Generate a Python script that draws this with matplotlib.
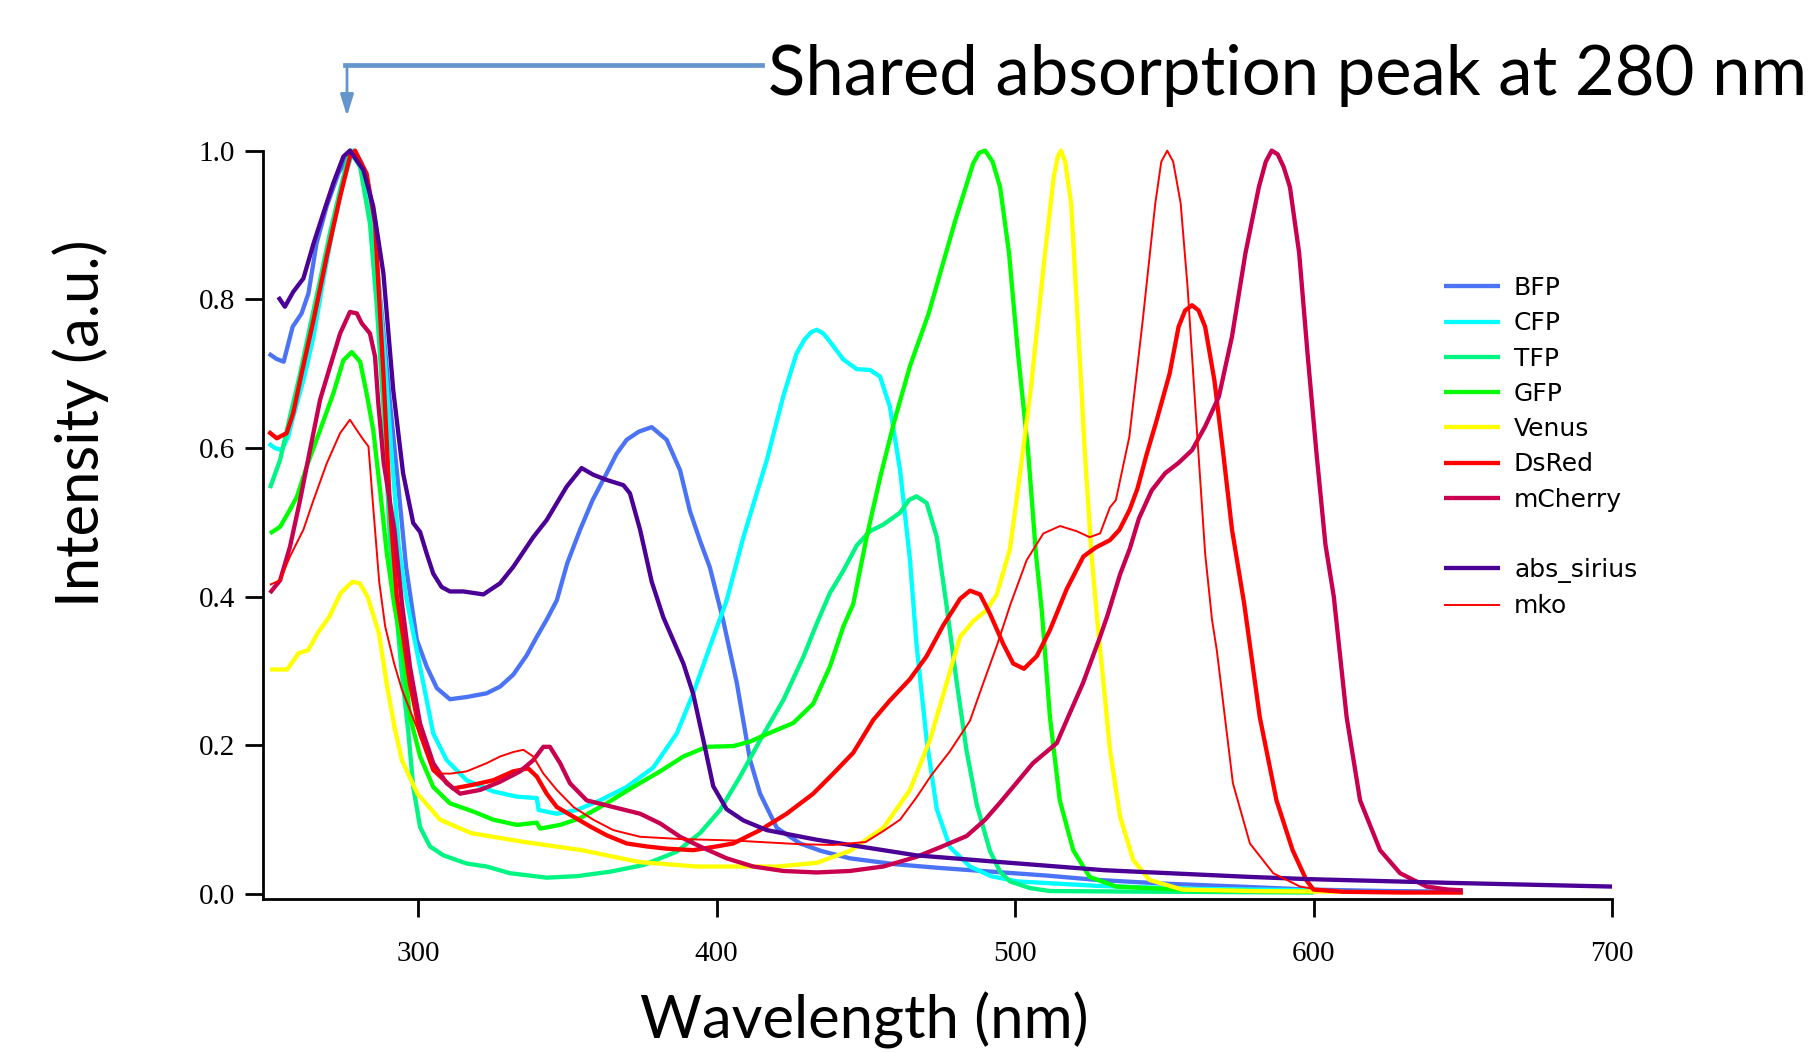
import numpy as np
import matplotlib
matplotlib.use('Agg')
from matplotlib import pyplot as plt
from matplotlib.lines import Line2D

########## SPECTRA ##########

bfp_nm = [250, 252.5, 255, 258, 261, 263.3, 266, 269.4, 273.3, 277.5, 280.5, 283, 285.5, 288, 290.5, 293,
          296, 299.6, 302.9, 306.3, 310.7, 316.3, 323, 327.5, 331.9, 336.4, 339.8, 343.1, 346.5, 350, 354.3,
          358.5, 363.2, 366.5, 369.9, 374, 378.3, 383.3, 387.8, 391.1, 394.5, 397.8, 402.3, 406.8, 411.2, 414.6,
          420.2, 428, 435, 444.7, 460, 475, 489, 510, 527.4, 550, 575, 598.5, 625, 650]
bfp = [0.727, 0.72, 0.716, 0.763, 0.781, 0.808, 0.875, 0.925, 0.969, 1.0, 0.985, 0.945, 0.875, 0.775, 0.665, 0.565,
       0.44, 0.342, 0.306, 0.277, 0.262, 0.265, 0.27, 0.279, 0.295, 0.321, 0.346, 0.369, 0.395, 0.445, 0.49,
       0.53, 0.566, 0.592, 0.611, 0.622, 0.628, 0.611, 0.57, 0.515, 0.475, 0.439, 0.367, 0.284, 0.181, 0.135,
       0.089, 0.068, 0.058, 0.048, 0.04, 0.035, 0.031, 0.025, 0.019, 0.014, 0.01, 0.006, 0.004, 0.003]

cfp_nm = [250, 252, 254.3, 256.5, 258.2, 261.6, 265, 268.3, 271.6, 275, 278.3, 281, 283.5, 286, 288.5, 291, 293.5,
          296, 298.4, 301.8, 305.1, 309.6, 316.3, 325.2, 333.1, 339.8, 340.4, 346.5, 353.2, 361, 369.9, 378.8,
          386.7, 392.2, 397.8, 403.4, 409, 416.8, 422.4, 426.8, 429.5, 431.8, 433.6, 435.8, 438, 442.5, 447, 451.4,
          454.8, 458.1, 461.5, 464.8, 467, 470.4, 473.8, 478.2, 484.9, 492, 500.6, 527.4, 560, 600]
cfp = [0.606, 0.6, 0.597, 0.615, 0.642, 0.691, 0.75, 0.826, 0.898, 0.96, 1.0, 0.985, 0.94, 0.86, 0.74, 0.6, 0.47,
       0.4, 0.351, 0.283, 0.216, 0.18, 0.153, 0.138, 0.131, 0.129, 0.113, 0.108, 0.113, 0.126, 0.144, 0.17,
       0.216, 0.27, 0.333, 0.395, 0.48, 0.583, 0.67, 0.727, 0.746, 0.756, 0.759, 0.754, 0.743, 0.719, 0.706, 0.705,
       0.696, 0.655, 0.57, 0.45, 0.336, 0.207, 0.114, 0.063, 0.037, 0.024, 0.017, 0.011, 0.007, 0.005]

tfp_nm = [250.4, 253.8, 257.1, 260.5, 263.8, 267.2, 270.5, 273.9, 277.2, 280.6, 283.9, 286.2, 288.4, 290.6, 292.3,
          294.5, 296.8, 298.4, 300.7, 304, 308.5, 316.3, 323, 330.8, 343.1, 353.2, 364.3, 375.5, 386.7, 394.5,
          401.2, 407.9, 414.6, 422.4, 429.1, 433.6, 438, 442.5, 447, 451.4, 455.9, 461.5, 464.5, 467, 470.4,
          473.8, 477.1, 480.5, 483.8, 487.2, 491.6, 495, 498.3, 505, 511.7, 550, 600]
tfp = [0.546, 0.584, 0.642, 0.7, 0.763, 0.826, 0.889, 0.947, 1.0, 0.978, 0.902, 0.79, 0.655, 0.476, 0.4,
       0.3, 0.216, 0.144, 0.09, 0.064, 0.052, 0.041, 0.037, 0.028, 0.022, 0.024, 0.03, 0.039, 0.057, 0.082,
       0.113, 0.158, 0.207, 0.261, 0.319, 0.364, 0.405, 0.435, 0.469, 0.488, 0.497, 0.513, 0.53, 0.535, 0.526,
       0.48, 0.387, 0.284, 0.192, 0.12, 0.058, 0.03, 0.017, 0.008, 0.004, 0.003, 0.002]

gfp_nm = [250.4, 253.8, 257.1, 259.4, 262.7, 267.2, 271.6, 275, 277.8, 280.6, 282.8, 285, 287.3, 289.5, 292,
          295.1, 297.3, 300.7, 305.1, 310.7, 318.5, 325.2, 333.1, 339.8, 340.9, 347.6, 354.3, 363.2, 372.1,
          381.1, 388.9, 396.7, 405.6, 411.2, 416.8, 425.7, 432.4, 438, 442.5, 445.8, 450.3, 454.8, 459.5,
          464.8, 471, 476, 480, 486, 488, 490, 492.5, 495, 498, 501, 504.4, 507, 509, 511.7, 515, 519.5, 525,
          534, 560, 600]
gfp = [0.485, 0.494, 0.517, 0.534, 0.575, 0.624, 0.673, 0.718, 0.729, 0.716, 0.673, 0.624, 0.543, 0.46, 0.39,
       0.32, 0.239, 0.185, 0.144, 0.122, 0.111, 0.1, 0.093, 0.096, 0.088, 0.093, 0.102, 0.122, 0.144,
       0.165, 0.185, 0.198, 0.199, 0.205, 0.215, 0.23, 0.256, 0.306, 0.36, 0.39, 0.48, 0.56, 0.635,
       0.71, 0.78, 0.85, 0.906, 0.983, 0.997, 1.0, 0.985, 0.951, 0.862, 0.727, 0.595, 0.458, 0.38, 0.238,
       0.126, 0.059, 0.023, 0.01, 0.005, 0.003]

venus_nm = [250.4, 256.2, 260, 263.2, 266.4, 270.3, 274.1, 278, 280.5, 283.1, 286.9, 289.5, 292.1, 294.6, 299.8,
            307.4, 317.7, 335.6, 354.9, 374.1, 393.3, 411.2, 420.3, 433.6, 444.7, 455.9, 464.8, 471.5, 477.1,
            481.6, 486, 490.5, 493.9, 498.3, 501.5, 505.2, 508.4, 510, 513, 514.3, 515.4, 516.8, 518.8, 521,
            523.4, 525.6, 527.5, 529.5, 531.8, 535.2, 539.6, 545, 556, 580, 610]
venus = [0.302, 0.302, 0.324, 0.328, 0.351, 0.373, 0.405, 0.42, 0.418, 0.4, 0.351, 0.283, 0.225, 0.18, 0.135,
         0.1, 0.082, 0.07, 0.059, 0.043, 0.037, 0.037, 0.037, 0.042, 0.058, 0.089, 0.14, 0.207, 0.284,
         0.346, 0.367, 0.382, 0.403, 0.464, 0.56, 0.676, 0.799, 0.86, 0.965, 0.992, 1.0, 0.985, 0.929, 0.772,
         0.593, 0.458, 0.37, 0.29, 0.194, 0.104, 0.046, 0.019, 0.006, 0.004, 0.003]

dsred_nm = [249.9, 252.7, 256, 258.2, 261, 265, 269.4, 273.9, 277.2, 278.9, 282.8, 285.6, 288.4, 290.6, 292.9,
            295.1, 297.3, 300.7, 305.1, 311.8, 318.5, 325.2, 331.9, 336.9, 339.8, 343.1, 346.5, 352.1, 357.6,
            363.2, 369.9, 376.6, 383.3, 392.2, 400, 405.6, 414.6, 423.5, 432.4, 439.1, 445.8, 452.5, 458,
            464.8, 470.4, 475.9, 481.6, 484.9, 488.3, 491.6, 496.1, 499.4, 503, 507.3, 511.7, 517.3, 522.9,
            527, 531.8, 535, 538.4, 541, 544, 547.3, 551.8, 554.8, 557, 559.3, 561.5, 563.7, 566.8, 569.7,
            572.7, 576.8, 582, 587.6, 593, 597.7, 600, 610, 630, 650]
dsred = [0.622, 0.613, 0.62, 0.647, 0.7, 0.772, 0.857, 0.938, 0.992, 1.0, 0.969, 0.902, 0.7, 0.521, 0.4,
         0.345, 0.283, 0.216, 0.167, 0.142, 0.147, 0.153, 0.165, 0.169, 0.158, 0.135, 0.117, 0.104, 0.091,
         0.079, 0.068, 0.064, 0.061, 0.059, 0.064, 0.068, 0.086, 0.108, 0.135, 0.162, 0.19, 0.234, 0.26,
         0.289, 0.32, 0.361, 0.397, 0.408, 0.403, 0.377, 0.336, 0.31, 0.303, 0.32, 0.355, 0.41, 0.454,
         0.466, 0.476, 0.49, 0.517, 0.545, 0.59, 0.635, 0.7, 0.763, 0.785, 0.792, 0.785, 0.763, 0.691, 0.595,
         0.49, 0.39, 0.238, 0.126, 0.059, 0.018, 0.006, 0.003, 0.002, 0.002]

mcherry_nm = [250.4, 253.8, 257.1, 260.5, 263.8, 267.2, 270.5, 273.9, 277.2, 279.5, 281.1, 283.9, 285.6, 286.7,
              288.5, 290.5, 292.1, 294.5, 297.3, 300.7, 305.1, 309.6, 314.1, 320.8, 327.5, 334.2, 338.6, 342,
              344.2, 347.6, 350.9, 356.5, 365.4, 374.4, 381.1, 387.8, 394.5, 403.4, 412.3, 422.4, 433.6, 444.7,
              455.9, 467, 475, 483.8, 490, 495, 506, 514, 518, 522.8, 528.5, 531, 535.2, 538.5, 541.5, 545.8,
              550.3, 554.8, 559.3, 563.7, 568.3, 572.7, 577.2, 581.7, 584, 586, 588, 590, 592.1, 595.2, 598, 601,
              604, 606.8, 611.1, 615.6, 622.3, 629, 637.9, 645, 650]
mcherry = [0.405, 0.422, 0.467, 0.53, 0.597, 0.665, 0.709, 0.754, 0.783, 0.781, 0.768, 0.754, 0.723, 0.66,
           0.58, 0.53, 0.49, 0.395, 0.306, 0.229, 0.176, 0.149, 0.135, 0.14, 0.151, 0.165, 0.18, 0.198,
           0.198, 0.176, 0.149, 0.126, 0.117, 0.108, 0.095, 0.077, 0.064, 0.048, 0.037, 0.031, 0.029, 0.031,
           0.037, 0.05, 0.063, 0.078, 0.1, 0.123, 0.176, 0.203, 0.24, 0.284, 0.346, 0.375, 0.43, 0.465, 0.505,
           0.543, 0.566, 0.58, 0.597, 0.629, 0.669, 0.75, 0.862, 0.951, 0.985, 1.0, 0.995, 0.978, 0.951, 0.862,
           0.727, 0.593, 0.47, 0.4, 0.238, 0.126, 0.059, 0.028, 0.01, 0.006, 0.005]

sirius_nm = [253.2, 255.4, 258.2, 261.6, 265, 268.3, 271.6, 275, 277.2, 281.7, 285, 288.4, 291.7, 295, 298.4,
             300.7, 302.9, 305.1, 307.9, 310.7, 315.2, 321.9, 327.5, 331.9, 338.6, 343.1, 349.8, 354.8, 358.7,
             363.2, 368.8, 371, 374.4, 378.3, 382.2, 388.9, 392.2, 395.6, 398.9, 403.4, 409, 416.8, 433.6,
             444.7, 467, 495, 530, 578.7, 598.5, 645.7, 700]
sirius = [0.803, 0.79, 0.81, 0.828, 0.875, 0.916, 0.956, 0.992, 1.0, 0.974, 0.925, 0.835, 0.678, 0.566, 0.499,
          0.487, 0.458, 0.431, 0.413, 0.407, 0.407, 0.403, 0.418, 0.44, 0.48, 0.503, 0.548, 0.573, 0.564,
          0.557, 0.55, 0.539, 0.49, 0.42, 0.372, 0.31, 0.269, 0.207, 0.145, 0.114, 0.099, 0.086, 0.073,
          0.066, 0.052, 0.043, 0.032, 0.023, 0.02, 0.015, 0.01]

mko_nm = [250.4, 253.8, 257.1, 261.6, 265, 269.4, 273.9, 277.2, 279.5, 281.7, 283.4, 285, 287, 289, 292, 294.6,
          299.8, 304.9, 308, 311, 316.3, 323, 327.5, 331.9, 335.3, 338.6, 342, 346.5, 352.1, 358.7, 365.4,
          374.4, 387.8, 405.6, 428, 439.1, 450, 456, 461.5, 467, 472, 478.2, 484.9, 489.4, 494, 498.5, 503.9,
          509.5, 515.1, 520.7, 525, 528.5, 531.8, 533.8, 538.3, 542.8, 547, 549, 551, 553, 555.5, 557.8, 560.7,
          563.7, 566, 567.6, 573, 578.7, 586.5, 595.5, 606.6, 650]
mko = [0.416, 0.422, 0.454, 0.49, 0.53, 0.579, 0.62, 0.638, 0.624, 0.611, 0.602, 0.52, 0.42, 0.36, 0.31, 0.275,
       0.222, 0.17, 0.162, 0.162, 0.165, 0.176, 0.185, 0.191, 0.194, 0.185, 0.162, 0.14, 0.117, 0.1, 0.086,
       0.077, 0.074, 0.072, 0.067, 0.066, 0.07, 0.085, 0.1, 0.13, 0.16, 0.192, 0.233, 0.284, 0.335, 0.39, 0.449,
       0.485, 0.495, 0.488, 0.48, 0.485, 0.52, 0.53, 0.615, 0.772, 0.929, 0.985, 1.0, 0.985, 0.929, 0.817, 0.638,
       0.458, 0.369, 0.328, 0.149, 0.068, 0.028, 0.01, 0.003, 0.001]

names = ['BFP', 'CFP', 'TFP', 'GFP', 'Venus', 'DsRed', 'mCherry', 'abs_sirius', 'mko']
colors = ['#4B73F5', '#00FFFF', '#00F582', '#00FF00', '#FFFF00', '#FF0000', '#C8004F', '#4B0096', '#FF0000']
series = [(bfp_nm, bfp), (cfp_nm, cfp), (tfp_nm, tfp), (gfp_nm, gfp), (venus_nm, venus),
          (dsred_nm, dsred), (mcherry_nm, mcherry), (sirius_nm, sirius), (mko_nm, mko)]

########## PLOT ##########

W, H = 1816, 1053
fig = plt.figure(figsize=(W / 100, H / 100), dpi=100)
# axes box in pixels: left 263, right 1612, top 150.6, bottom 899
ax = fig.add_axes([263 / W, 1 - 899 / H, (1612 - 263) / W, (899 - 150.6) / H])

handles = []
for (x, y), name, c in zip(series, names, colors):
    lw = 1.4 if name == 'mko' else 3.1
    ln, = ax.plot(x, y, color=c, lw=lw, label=name, clip_on=False,
                  solid_joinstyle='round', solid_capstyle='butt')
    handles.append(ln)

ax.set_xlim(248.07, 700)
ax.set_ylim(-0.0067, 1.0)
ax.set_xticks([300, 400, 500, 600, 700])
ax.set_yticks([0.0, 0.2, 0.4, 0.6, 0.8, 1.0])
ax.set_yticklabels(['0.0', '0.2', '0.4', '0.6', '0.8', '1.0'])
for s in ['top', 'right']:
    ax.spines[s].set_visible(False)
for s in ['left', 'bottom']:
    ax.spines[s].set_linewidth(2)
ax.tick_params(direction='out', length=13, width=2, labelsize=21, pad=7)
ax.tick_params(axis='x', pad=17)
for lab in ax.get_xticklabels() + ax.get_yticklabels():
    lab.set_fontfamily('Liberation Serif')

ax.set_xlabel('Wavelength (nm)', fontfamily='Lato', fontsize=43)
ax.set_ylabel('Intensity (a.u.)', fontfamily='Lato', fontsize=43)
ax.xaxis.set_label_coords(0.4455, -0.1617)
ax.xaxis.label.set_va('center')
ax.yaxis.set_label_coords(-0.135, 0.636)
ax.yaxis.label.set_va('center')

# legend with a blank row between mCherry and abs_sirius
blank = Line2D([], [], color='none')
leg_h = handles[:7] + [blank] + handles[7:]
leg_l = names[:7] + [''] + names[7:]
ax.legend(leg_h, leg_l, loc='upper left', bbox_to_anchor=(1444 / W, 1 - 276 / H),
          bbox_transform=fig.transFigure, frameon=False, fontsize=18,
          handlelength=2.24, handletextpad=0.56, labelspacing=0.45,
          borderpad=0, borderaxespad=0)

# callout arrow + text
arrow_c = '#6495CD'
fig.add_artist(Line2D([345 / W, 762 / W], [1 - 65 / H, 1 - 65 / H], transform=fig.transFigure,
                      color=arrow_c, lw=3.4))
ax.annotate('', xy=(347 / W, 1 - 119 / H), xycoords='figure fraction',
            xytext=(347 / W, 1 - 64 / H), textcoords='figure fraction',
            arrowprops=dict(arrowstyle='-|>,head_length=1.3,head_width=0.4', lw=2, color=arrow_c))
fig.text(768 / W, 1 - 95 / H, 'Shared absorption peak at 280 nm', fontfamily='Lato',
         fontsize=49.5, ha='left', va='baseline')

fig.savefig('out.png', dpi=100)
